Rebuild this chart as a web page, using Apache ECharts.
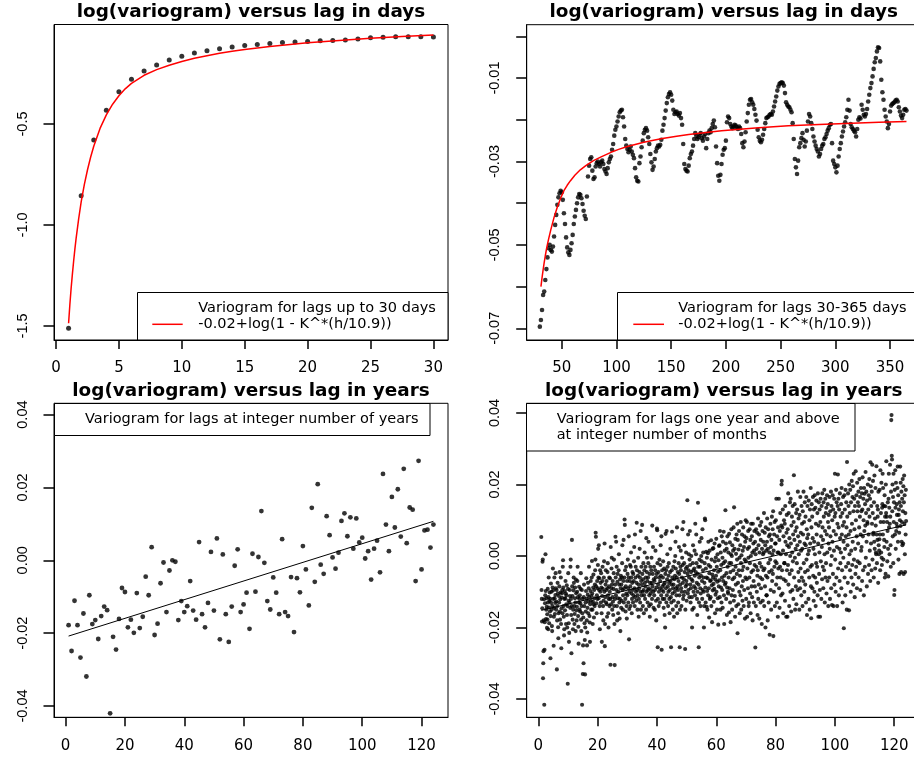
<!DOCTYPE html>
<html>
<head>
<meta charset="utf-8">
<title>log(variogram) versus lag</title>
<script src="https://cdn.jsdelivr.net/npm/echarts@6.0.0/dist/echarts.min.js"></script>
<style>
  html, body { margin: 0; padding: 0; background: #fff; }
  #chart { width: 914px; height: 760px; }
</style>
</head>
<body>
<div id="chart"></div>
<script>
// ---- panel 1: lags 1..30 days
const dayLags = [1,2,3,4,5,6,7,8,9,10,11,12,13,14,15,16,17,18,19,20,21,22,23,24,25,26,27,28,29,30];
const dayVario = [-1.512,-0.855,-0.579,-0.432,-0.340,-0.279,-0.238,-0.208,-0.183,-0.165,
  -0.149,-0.137,-0.127,-0.119,-0.112,-0.106,-0.101,-0.097,-0.094,-0.091,
  -0.088,-0.087,-0.084,-0.079,-0.073,-0.071,-0.068,-0.068,-0.068,-0.069];
// red fitted curve
const fit1Lag = [1,1.1,1.2,1.3,1.4,1.5,1.6,1.8,2,2.25,2.5,2.75,3,3.5,4,4.5,5,5.5,6,7,8,9,10,11,12,13,14,15,17,20,22.5,25,27.5,30];
const fit1Val = [-1.487,-1.395,-1.315,-1.245,-1.18,-1.12,-1.065,-0.97,-0.886,-0.80,-0.728,-0.665,-0.610,-0.522,-0.455,-0.402,-0.360,-0.326,-0.299,
  -0.259,-0.231,-0.209,-0.191,-0.175,-0.162,-0.150,-0.140,-0.131,-0.116,-0.098,-0.087,-0.076,-0.067,-0.059];

// ---- panel 2: lags 30..365 days (values x 1e-3)
const longLagStart = 30;
const longVarioE3 = [
  -69.6,-68.0,-65.6,-62.0,-61.2,-58.4,-55.8,-53.0,-50.8,-50.0,
  -51.2,-51.6,-50.4,-48.0,-45.2,-42.8,-40.4,-38.6,-37.6,-37.0,
  -37.4,-39.2,-42.4,-45.0,-48.2,-50.6,-51.8,-52.4,-51.2,-49.6,
  -47.6,-45.0,-43.2,-41.6,-40.0,-38.6,-37.8,-38.0,-38.8,-40.2,
  -41.8,-43.0,-43.8,-38.4,-33.6,-31.0,-29.4,-29.0,-32.2,-34.2,
  -33.8,-31.2,-30.4,-30.0,-30.6,-31.2,-30.2,-29.8,-30.6,-31.8,
  -32.4,-33.0,-31.6,-30.2,-29.4,-28.8,-27.2,-25.8,-23.8,-22.4,
  -21.6,-20.4,-19.2,-18.2,-17.8,-17.6,-19.4,-21.6,-24.6,-26.2,
  -27.0,-27.8,-27.2,-26.4,-27.6,-28.4,-29.2,-31.6,-33.8,-34.6,
  -34.8,-30.4,-28.8,-26.6,-25.0,-23.2,-22.4,-22.0,-22.6,-24.2,
  -25.8,-28.2,-30.2,-32.0,-31.2,-29.4,-27.6,-26.8,-26.2,-26.4,
  -26.0,-24.8,-22.6,-21.2,-19.6,-17.8,-16.0,-14.6,-13.8,-13.4,
  -14.0,-15.4,-17.6,-18.6,-18.2,-18.0,-18.6,-19.0,-18.4,-19.6,
  -21.2,-25.8,-30.6,-31.8,-32.2,-32.4,-31.0,-29.2,-28.2,-27.6,
  -26.2,-24.6,-23.2,-23.8,-24.6,-24.2,-23.6,-23.2,-24.4,-25.0,
  -24.0,-23.4,-26.8,-24.6,-23.2,-22.6,-23.0,-22.0,-21.0,-20.2,
  -21.8,-26.4,-30.4,-33.4,-34.6,-33.2,-30.6,-28.4,-27.2,-26.8,
  -25.0,-20.6,-19.2,-19.6,-21.0,-21.6,-22.0,-21.6,-21.2,-21.4,
  -21.8,-22.2,-21.6,-22.0,-23.4,-25.6,-26.6,-25.2,-23.0,-20.4,
  -18.4,-16.4,-15.2,-15.0,-15.8,-16.4,-17.4,-18.8,-20.2,-22.4,
  -24.2,-25.0,-25.4,-24.8,-23.6,-22.2,-20.8,-19.6,-19.4,-19.2,
  -18.8,-18.6,-18.8,-18.0,-16.8,-15.6,-14.4,-13.0,-12.0,-11.4,
  -11.2,-11.0,-11.2,-11.8,-13.6,-15.8,-16.4,-16.8,-17.0,-17.6,
  -18.2,-20.8,-24.6,-29.4,-31.4,-33.0,-29.8,-26.6,-25.6,-24.4,
  -23.2,-24.8,-26.4,-25.2,-22.6,-20.4,-18.6,-19.2,-20.8,-22.2,
  -24.0,-25.2,-26.2,-27.0,-27.6,-28.8,-28.2,-27.0,-26.2,-25.8,
  -24.6,-24.2,-23.4,-22.6,-22.0,-21.2,-21.0,-25.6,-29.8,-30.6,
  -31.4,-32.6,-31.0,-28.8,-27.0,-25.6,-24.0,-22.8,-21.6,-20.6,
  -19.4,-17.6,-15.2,-17.8,-21.0,-21.8,-22.2,-22.6,-23.0,-24.0,
  -22.2,-20.0,-19.4,-19.7,-16.4,-17.6,-18.8,-19.2,-18.6,-17.4,
  -15.6,-14.0,-12.4,-11.2,-9.6,-7.8,-6.2,-5.2,-3.6,-2.6,
  -2.8,-6.0,-10.4,-13.4,-15.2,-17.6,-19.2,-20.4,-22.0,-21.0,
  -18.0,-16.6,-16.2,-16.0,-15.8,-15.4,-15.2,-15.6,-17.0,-18.0,
  -19.0,-19.6,-18.8,-17.6,-17.4,-17.8
];
const fit2Lag = [31,32,33,34,35,36,37,38,40,43,46,49,52,55,58,62,67,72,79,86,95,102,110,118,125,135,142,155,166,180,196,210,227,240,257,285,315,340,365];
const fit2ValE3 = [-60.0,-57.9,-56.0,-54.2,-52.6,-51.1,-49.8,-48.6,-46.4,-43.4,-40.9,-38.8,-37.0,-35.7,-34.6,-33.3,-32.0,-31.0,-29.8,-28.9,-27.8,
  -27.1,-26.4,-25.85,-25.4,-24.85,-24.5,-23.95,-23.55,-23.1,-22.65,-22.3,-21.95,-21.72,-21.45,-21.1,-20.8,-20.58,-20.4];

// ---- panel 3: lags 1..124 years
const yearVario = [
  -0.0178,-0.0249,-0.0111,-0.0178,-0.0267,-0.0146,-0.0319,-0.0096,-0.0175,-0.0164,
  -0.0216,-0.0153,-0.0127,-0.0137,-0.0420,-0.0210,-0.0245,-0.0161,-0.0076,-0.0087,
  -0.0184,-0.0163,-0.0199,-0.0090,-0.0186,-0.0155,-0.0045,-0.0096,0.0036,-0.0205,
  -0.0174,-0.0063,-0.0006,-0.0142,-0.0028,0.0000,-0.0004,-0.0164,-0.0112,-0.0142,
  -0.0126,-0.0057,-0.0138,-0.0163,0.0050,-0.0148,-0.0184,-0.0117,0.0023,-0.0138,
  0.0060,-0.0217,0.0016,-0.0148,-0.0224,-0.0127,-0.0015,0.0030,-0.0142,-0.0121,
  -0.0089,-0.0188,0.0018,-0.0086,0.0009,0.0135,-0.0007,-0.0112,-0.0135,-0.0047,
  -0.0089,-0.0148,0.0058,-0.0142,-0.0153,-0.0046,-0.0197,-0.0049,-0.0088,0.0039,
  -0.0025,-0.0124,0.0144,-0.0059,0.0209,-0.0012,-0.0037,0.0121,0.0069,0.0008,
  -0.0023,0.0021,0.0108,0.0129,0.0066,0.0118,0.0032,0.0115,0.0049,0.0062,
  0.0005,0.0025,-0.0053,0.0032,0.0054,-0.0033,0.0237,0.0098,0.0025,0.0174,
  0.0090,0.0195,0.0065,0.0251,0.0047,0.0145,0.0139,-0.0057,0.0273,-0.0025,
  0.0082,0.0084,0.0035,0.0098
];
const yearFitLag = [1, 124];
const yearFitVal = [-0.0208, 0.0107];

// ---- panel 4: lags 12..1488 months, shown in years (values x 1e-4)
const monthLagStart = 12;
const monthVarioE4 = [
  53,-95,-120,-183,-146,-16,-10,-342,-300,-266,-180,-121,
  -416,-262,-185,-132,-110,5,-98,-176,-150,-118,-142,-201,
  -163,-178,-92,-130,-205,-115,-60,-144,-188,-126,-102,-155,
  -120,-286,-168,-77,-131,-100,-150,-196,-210,-140,-88,-35,
  -96,-120,-251,-170,-145,-60,-118,-162,-131,-109,-48,-90,
  -150,-127,-95,-317,-180,-140,-75,-105,-199,-230,-160,-112,
  -130,-85,-45,-155,-178,-121,-102,-60,-190,-258,-146,-116,
  -104,-95,-160,-30,-12,-88,-140,-170,-222,-205,-120,-98,
  -152,-118,-70,-105,-190,-135,-110,-82,-165,-200,-140,-357,
  -92,-48,-125,-188,-240,-215,-130,-95,-112,-145,-30,-10,
  -120,-165,-272,-140,45,-85,-112,-178,-205,-150,-96,-60,
  -75,-140,-190,-162,-118,-88,-130,-210,-66,-104,-152,-180,
  -142,-100,-70,-30,-115,-168,-198,-245,-130,-86,-120,-150,
  -110,-155,-132,-92,-48,-178,-210,-140,-95,-416,-160,-120,
  -330,-250,-172,-300,-115,-80,-140,-188,-235,-331,-200,-130,
  -155,-98,-62,-120,-180,-250,-214,-145,-108,-75,-160,-128,
  -90,-30,-115,-168,-186,-240,-135,-98,-70,-125,-150,-112,
  -60,-14,-105,-150,-190,-128,-88,-52,-135,-172,-95,-118,
  -140,-80,-40,-10,65,54,-85,-132,-160,-110,-70,-120,
  -90,-25,20,-60,-118,30,-95,-62,-140,-205,-40,-100,
  -75,-130,-48,-88,-160,-240,-112,-70,-30,-92,-140,-180,
  -125,-60,-15,-100,35,-252,-190,-115,-80,-40,-130,-95,
  -70,-135,-170,-90,-45,-20,-110,-160,-200,-120,-85,-60,
  -140,-100,-62,-120,-304,25,-135,-90,-35,-5,-80,-150,
  -115,-70,-128,-165,-92,-48,-10,-140,-190,-305,-120,-80,
  54,-60,-110,40,-95,-30,-140,-180,-72,-50,-118,-160,
  -100,-40,5,-80,-130,-175,-120,-65,-210,-90,-55,-145,
  -80,-125,-60,-20,30,-95,-150,-110,-70,45,-130,-90,
  -60,102,87,-40,-120,-155,-85,-30,-105,-140,-175,-70,
  -110,-50,-10,-90,-130,-60,55,-233,-148,-100,-70,-25,
  -85,-140,-30,10,-60,-105,-160,-120,-75,-45,-95,-130,
  -50,-110,-70,-15,25,-90,-140,60,-115,-60,-30,-100,
  -125,-75,93,-40,-95,-150,-110,-55,-5,-80,-170,-120,
  -90,-45,20,-60,-130,-100,70,-150,-70,-30,-110,-80,
  87,-50,-100,-140,-65,-20,-95,-160,-110,-40,10,-75,
  -120,-85,-30,-60,-150,50,-100,-45,-5,-70,-130,-95,
  -60,-20,40,-90,-140,-110,-50,-170,-75,-30,-105,-135,
  -95,-40,-5,-75,-120,85,-85,-50,25,-100,-145,-65,
  -30,-110,-70,-150,-95,-40,15,-60,-125,-180,-88,-50,
  77,72,-20,-255,-120,-80,-45,-140,-100,-60,-10,-90,
  -130,-70,-25,30,-55,-110,55,-262,-95,-40,-85,-120,
  -60,-15,-100,-145,-80,-35,-120,-165,-75,-200,-50,62,
  -90,-40,-130,70,-110,-65,5,-30,-85,-140,-100,-55,
  -20,-75,-120,-160,-95,-45,20,-70,-115,-255,-130,-80,
  -40,68,-60,-105,-150,-90,-30,-80,-125,-170,-65,-15,
  -100,-55,0,40,-35,-90,-140,-110,-60,80,-160,-85,
  -45,-95,-130,-70,-20,25,-50,-110,-255,-150,-80,-30,
  15,-40,-90,-140,-100,-60,-5,75,-25,-75,-120,95,
  -110,-65,-20,30,-45,-100,-260,-150,-85,-35,10,-70,
  -125,-80,-30,156,-50,-105,60,-95,-40,5,-60,-115,
  -10,70,-25,-80,-130,-90,-45,0,-65,-115,-200,-150,
  -70,-20,30,-40,-100,-145,-85,-35,15,-55,-110,90,
  -90,-45,5,60,-20,-75,-120,-165,-100,-50,149,-30,
  -80,-255,-130,-60,-10,40,-30,-90,-140,-105,-55,0,
  50,-15,-70,-120,75,-95,-40,10,-60,-100,-200,-140,
  -75,-20,105,100,-88,-130,-35,12,-60,-142,-5,-98,
  -150,-62,8,-110,40,-25,-90,-172,-48,15,-120,-70,
  -30,-115,-68,44,-140,-10,-82,-185,-52,20,-96,-60,
  22,-78,-128,-40,-92,35,-15,-160,-66,-108,-4,-55,
  48,-100,-30,-150,-72,5,-118,-44,-192,-12,-85,28,
  -68,30,-115,70,-40,-150,10,-88,-25,-130,55,-60,
  -95,-5,-145,40,-70,-20,68,-110,-190,-55,15,-80,
  -15,128,-75,35,-120,-48,20,-165,-88,55,-30,-100,
  -105,10,-60,-158,62,-20,-90,38,-130,-45,-185,5,
  -20,75,-110,0,-150,30,-65,-95,15,-40,80,-125,
  136,-60,20,-112,-170,48,-30,-80,6,-140,60,-50,
  -10,90,-216,45,-75,-135,18,-40,70,-100,-5,-160,
  -55,30,-110,95,-20,-150,2,-85,60,-40,-125,15,
  -70,80,-30,-140,25,-95,55,-10,-175,40,-60,100,
  -15,-120,50,-65,95,-170,-35,20,-90,70,-5,-140,
  -130,25,-60,75,-20,-105,45,-160,0,90,-45,-85,
  55,-115,10,-180,90,-40,35,-70,-130,15,70,-25,
  -85,40,-256,5,-140,75,-30,20,-100,65,-55,-165,
  -40,105,-120,30,-80,60,-175,10,-20,85,-60,-130,
  45,-90,95,-30,-190,20,-65,70,-125,5,40,-40,
  10,120,-140,-35,65,-85,30,-200,80,-55,15,-110,
  -110,40,105,-60,-180,20,75,-20,-130,55,-45,10,
  -220,60,-10,90,-95,25,-150,45,-40,110,-70,5,
  75,-50,125,-224,15,-100,60,-30,95,-140,35,-15,
  35,100,-80,160,-20,-130,55,-60,10,-170,80,-35,
  10,160,-90,45,-145,70,-30,120,-60,5,-110,85,
  200,210,-40,80,-105,130,15,-160,55,-65,100,-20,
  -20,90,-125,140,40,-70,5,-170,65,115,-40,30,
  -170,75,-25,175,-80,120,25,-140,50,-50,150,0,
  -100,160,35,-155,85,-40,110,10,-95,140,-15,60,
  -120,95,226,-60,45,145,-5,-150,70,20,-85,120,
  -135,80,-20,130,30,-95,180,55,-45,105,5,-70,
  -150,115,40,-90,165,-35,65,15,-110,140,-60,90,
  20,-140,125,60,-70,180,-20,95,-100,35,150,-45,
  -80,110,30,-130,165,-10,75,-165,50,140,-40,5,
  60,-120,155,15,-60,100,-150,130,35,-30,190,-85,
  -174,80,145,-25,110,-90,50,165,-55,20,-125,130,
  40,-100,170,5,-60,135,-140,90,-20,155,60,-75,
  -30,120,-110,175,35,-170,85,150,-50,10,130,-95,
  -170,95,160,-15,55,-120,140,25,-65,175,80,-30,
  45,-90,150,110,-40,185,5,-130,70,160,-60,120,
  -20,135,-105,60,170,10,-70,145,95,-140,35,115,
  80,-60,165,20,-120,125,55,-25,180,-90,140,0,
  -137,100,40,170,-50,130,-140,70,15,160,-80,110,
  230,-10,120,-100,60,185,-60,150,25,-140,90,140,
  228,-35,160,80,-110,130,20,-70,175,50,-20,110,
  10,145,-90,190,60,-40,120,-130,85,165,-5,40,
  -202,95,170,-60,130,20,-110,185,55,-30,150,80,
  -150,263,110,30,-75,175,-20,140,60,-152,200,5,
  120,-40,185,70,-100,150,15,-60,210,90,-25,165,
  40,195,-80,125,230,-10,160,75,-115,140,20,-50,
  237,100,-30,170,55,-90,205,125,-15,150,35,180,
  -60,140,80,215,-20,110,165,-95,60,190,15,125,
  25,175,-70,130,220,55,-40,160,100,-110,190,70,
  174,-30,145,85,235,-5,120,180,40,-85,155,95,
  90,200,-50,130,60,170,-25,215,110,15,160,-70,
  262,195,35,140,-40,180,90,255,-10,120,210,60,
  65,-60,150,40,225,20,105,-35,190,85,10,5,
  251,60,-20,140,45,110,130,-75,180,30,5,15,
  47,185,60,-40,240,95,120,10,205,-5,-25,135,
  145,230,60,190,-10,95,140,45,25,170,-60,110,
  139,-50,200,120,265,40,110,95,-15,70,150,20,
  -57,160,230,80,135,5,90,255,110,30,-30,180,
  380,394,280,270,125,200,55,165,-20,230,95,150,
  -109,-95,185,60,240,135,20,205,70,90,145,115,
  82,190,250,40,170,-10,115,130,65,-50,150,100,
  250,84,205,140,-45,180,40,95,160,30,215,125,
  35,195,-50,150,225,90,170,5,-45,120,60,185,
  98
];
const monthFitLag = [1, 124];
const monthFitVal = [-0.0152, 0.0087];

// ---- tick values per panel
const xTicks = [[0,5,10,15,20,25,30], [50,100,150,200,250,300,350], [0,20,40,60,80,100,120], [0,20,40,60,80,100,120]];
const yTicks = [[-1.5,-1.0,-0.5], [-0.07,-0.06,-0.05,-0.04,-0.03,-0.02,-0.01,0], [-0.04,-0.02,0,0.02,0.04], [-0.04,-0.02,0,0.02,0.04]];
const yLabels = [[-1.5,-1.0,-0.5], [-0.07,-0.05,-0.03,-0.01], [-0.04,-0.02,0,0.02,0.04], [-0.04,-0.02,0,0.02,0.04]];

// ---- layout (pixels)
const grids = [
  { left: 54, top: 24.5, width: 394, height: 315.5 },
  { left: 526.7, top: 24.7, width: 394, height: 315.3 },
  { left: 54, top: 403.3, width: 394, height: 314 },
  { left: 526.7, top: 403.3, width: 394, height: 314 }
];

const sans = 'DejaVu Sans';
const helv = 'Liberation Sans';
const tickLine = { color: '#000', width: 1.5 };

function xAx(i, min, max) {
  return {
    type: 'value', gridIndex: i, position: 'bottom', min: min, max: max,
    axisLine: { show: true, onZero: false, lineStyle: { color: '#000', width: 1 } }, splitLine: { show: false },
    axisTick: { show: true, inside: false, length: 9, lineStyle: tickLine, customValues: xTicks[i] },
    axisLabel: { customValues: xTicks[i], color: '#000', fontFamily: sans, fontSize: 15, margin: 21 }
  };
}
function yAx(i, min, max, digits) {
  return {
    type: 'value', gridIndex: i, position: 'left', min: min, max: max,
    axisLine: { show: true, onZero: false, lineStyle: { color: '#000', width: 1 } }, splitLine: { show: false },
    axisTick: { show: true, inside: false, length: 10.5, lineStyle: tickLine, customValues: yTicks[i] },
    axisLabel: { customValues: yLabels[i], rotate: 90, color: '#000', fontFamily: helv, fontSize: 14.5, margin: 24,
      formatter: v => Number(v).toFixed(digits) }
  };
}

const titleStyle = { fontFamily: sans, fontWeight: 'bold', fontSize: 18.4, color: '#000' };
const mkTitle = (text, g, top) => ({ text, left: g.left + 197, top, textAlign: 'center', padding: 0, textStyle: titleStyle });

const dot = { color: '#000' };
const legendFont = { fontFamily: sans, fontSize: 14.5, fill: '#000' };

function legendBox(x, y, w, h) {
  return { type: 'rect', z: 100, shape: { x, y, width: w, height: h }, style: { fill: '#fff', stroke: '#000', lineWidth: 1 } };
}
function legendText(x, y, text) {
  return { type: 'text', z: 101, x, y, style: Object.assign({ text, verticalAlign: 'middle', align: 'left' }, legendFont) };
}
function legendLine(x1, x2, y) {
  return { type: 'line', z: 101, shape: { x1, y1: y, x2, y2: y }, style: { stroke: '#ff0000', lineWidth: 1.5 } };
}

const chart = echarts.init(document.getElementById('chart'), null, { renderer: 'canvas' });
chart.setOption({
  animation: false,
  backgroundColor: '#fff',
  title: [
    mkTitle('log(variogram) versus lag in days', grids[0], 3),
    mkTitle('log(variogram) versus lag in days', grids[1], 3),
    mkTitle('log(variogram) versus lag in years', grids[2], 382),
    mkTitle('log(variogram) versus lag in years', grids[3], 382)
  ],
  grid: grids.map(g => Object.assign({ show: true, borderColor: '#000', borderWidth: 1, containLabel: false, outerBoundsMode: 'none' }, g)),
  xAxis: [
    xAx(0, -0.16, 31.16),
    xAx(1, 18, 378),
    xAx(2, -3.92, 128.92),
    xAx(3, -3.92, 128.92)
  ],
  yAxis: [
    yAx(0, -1.5698, -0.0074, 1),
    yAx(1, -0.0728, 0.0028, 2),
    yAx(2, -0.0431, 0.0431, 2),
    yAx(3, -0.0451, 0.0427, 2)
  ],
  series: [
    { type: 'scatter', xAxisIndex: 0, yAxisIndex: 0, symbolSize: 5, itemStyle: dot, silent: true,
      data: dayLags.map((h, i) => [h, dayVario[i]]) },
    { type: 'line', xAxisIndex: 0, yAxisIndex: 0, showSymbol: false, smooth: false, silent: true,
      lineStyle: { color: '#ff0000', width: 1.5 }, data: fit1Lag.map((h, i) => [h, fit1Val[i]]) },
    { type: 'scatter', xAxisIndex: 1, yAxisIndex: 1, symbolSize: 4.6, itemStyle: dot, silent: true,
      data: longVarioE3.map((v, i) => [longLagStart + i, v / 1000]) },
    { type: 'line', xAxisIndex: 1, yAxisIndex: 1, showSymbol: false, smooth: false, silent: true,
      lineStyle: { color: '#ff0000', width: 1.5 }, data: fit2Lag.map((h, i) => [h, fit2ValE3[i] / 1000]) },
    { type: 'scatter', xAxisIndex: 2, yAxisIndex: 2, symbolSize: 4.8, itemStyle: dot, silent: true,
      data: yearVario.map((v, i) => [i + 1, v]) },
    { type: 'line', xAxisIndex: 2, yAxisIndex: 2, showSymbol: false, silent: true,
      lineStyle: { color: '#000', width: 1 }, data: yearFitLag.map((h, i) => [h, yearFitVal[i]]) },
    { type: 'scatter', xAxisIndex: 3, yAxisIndex: 3, symbolSize: 4.1, itemStyle: dot, silent: true,
      data: monthVarioE4.map((v, i) => [(monthLagStart + i) / 12, v / 10000]) },
    { type: 'line', xAxisIndex: 3, yAxisIndex: 3, showSymbol: false, silent: true,
      lineStyle: { color: '#000', width: 1 }, data: monthFitLag.map((h, i) => [h, monthFitVal[i]]) }
  ],
  graphic: [
    legendBox(137.5, 292.5, 310.5, 47.5),
    legendText(198.3, 308.3, 'Variogram for lags up to 30 days'),
    legendText(198.3, 324.3, '-0.02+log(1 - K^*(h/10.9))'),
    legendLine(152.3, 182.7, 324.3),

    legendBox(617.5, 292.5, 310, 47.5),
    legendText(678.3, 308.3, 'Variogram for lags 30-365 days'),
    legendText(678.3, 324.3, '-0.02+log(1 - K^*(h/10.9))'),
    legendLine(633.3, 664, 324.3),

    legendBox(54.5, 403.5, 375.5, 32),
    legendText(85, 419.5, 'Variogram for lags at integer number of years'),

    legendBox(526.5, 403.5, 328.5, 47.5),
    legendText(556.7, 419.3, 'Variogram for lags one year and above'),
    legendText(556.7, 435.3, 'at integer number of months')
  ]
});
</script>
</body>
</html>
